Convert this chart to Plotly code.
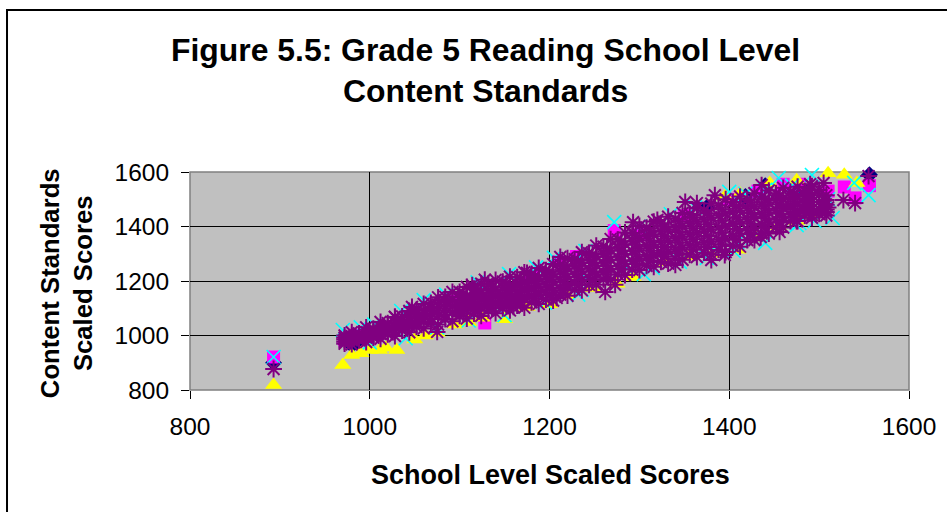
import plotly.graph_objects as go

# Read-off data (school level score, content standards score)
xs = [972,980,988,996,1004,1012,1020,1028,1036,1044,1052,1060,1068,1076,1084,1092,1100,1108,1116,1124,
      1132,1140,1148,1156,1164,1172,1180,1188,1196,1204,1212,1220,1228,1236,1244,1252,1260,1268,1276,1284,
      1292,1300,1308,1316,1324,1332,1340,1348,1356,1364,1372,1380,1388,1396,1404,1412,1420,1428,1436,1444,
      1452,1460,1468,1476,1484,1492,1500,1508]
purple_top = [1000,1012,1008,1030,1025,1050,1045,1068,1070,1090,1094,1116,1120,1140,1142,1160,1160,1178,1172,1190,
              1190,1204,1198,1216,1214,1232,1226,1248,1240,1262,1260,1284,1280,1306,1302,1330,1326,1354,1352,1378,
              1376,1402,1396,1418,1412,1436,1428,1450,1446,1468,1460,1484,1478,1500,1490,1510,1500,1522,1510,1532,
              1522,1542,1528,1546,1530,1548,1534,1515]
purple_up = [992,998,1006,1012,1021,1030,1038,1047,1057,1068,1080,1091,1103,1114,1123,1132,1140,1145,1152,1158,
             1165,1170,1176,1183,1189,1196,1203,1210,1217,1225,1235,1246,1256,1266,1277,1289,1300,1312,1324,1335,
             1346,1357,1365,1372,1381,1388,1395,1403,1411,1418,1425,1433,1440,1447,1453,1459,1467,1474,1480,1488,
             1495,1500,1505,1509,1513,1515,1515,1497]
purple_mid = [985,990,997,1002,1010,1018,1025,1033,1042,1052,1062,1072,1082,1092,1100,1108,1115,1120,1126,1132,
              1138,1143,1149,1155,1161,1167,1174,1181,1187,1195,1205,1215,1225,1235,1245,1257,1267,1278,1289,1299,
              1310,1320,1327,1334,1342,1349,1356,1363,1371,1377,1383,1390,1396,1402,1409,1417,1426,1435,1443,1452,
              1460,1468,1475,1482,1487,1490,1490,1480]
purple_low = [977,982,988,992,999,1006,1012,1019,1027,1035,1044,1052,1061,1070,1077,1084,1090,1094,1100,1105,
              1111,1116,1121,1127,1132,1138,1145,1151,1157,1165,1174,1184,1193,1203,1213,1225,1233,1244,1254,1263,
              1273,1282,1289,1295,1303,1309,1316,1323,1330,1335,1340,1346,1352,1357,1365,1374,1385,1396,1405,1416,
              1425,1435,1445,1454,1461,1465,1465,1462]
purple_bot = [970,968,982,976,992,988,1004,998,1018,1012,1032,1026,1046,1040,1060,1052,1072,1062,1080,1072,
              1092,1082,1100,1092,1110,1102,1122,1116,1132,1128,1150,1146,1168,1166,1186,1186,1206,1204,1224,1222,
              1242,1240,1256,1252,1270,1264,1282,1278,1296,1288,1304,1298,1314,1306,1328,1326,1350,1350,1374,1374,
              1396,1396,1420,1420,1440,1432,1446,1440]

fill_x = [1104,1120,1136,1152,1168,1184,1200,1216,1232,1248,1264,1280,1296,1312,1328,1344,1360,1376,1392,1408,1424,1440,1456,1472,1488]
fill_a = [1153,1166,1179,1192,1205,1219,1234,1255,1275,1298,1320,1345,1368,1385,1401,1418,1433,1449,1463,1475,1488,1501,1513,1519,1525]
fill_b = [1130,1142,1153,1166,1178,1191,1206,1225,1246,1267,1289,1312,1333,1349,1364,1380,1394,1408,1421,1434,1450,1466,1481,1492,1501]
fill_c = [1105,1116,1127,1138,1150,1163,1176,1195,1214,1235,1255,1276,1296,1311,1325,1340,1353,1365,1377,1391,1410,1430,1447,1464,1475]
fill_d = [1081,1092,1101,1112,1123,1135,1148,1165,1185,1204,1224,1243,1262,1275,1289,1302,1315,1325,1335,1351,1372,1395,1415,1437,1451]

purple_extra_x = [893,1128,1262,1351,1384,1436,1380,1395,1527,1540,1555,1490,1505,1475,1510,
                  1114,1083,1047,1028,1175,1160,1075,1293,1320,1364,1212,1208,1273,1340,1435,1456,1508,1492]
purple_extra_y = [877,1205,1160,1490,1515,1552,1277,1295,1497,1486,1585,1555,1560,1420,1470,
                  1185,1130,1105,1068,1230,1105,1013,1416,1424,1486,1288,1138,1186,1259,1361,1380,1453,1442]

cyan_x = [893,970,990,1005,1035,1060,1085,1120,1155,1185,1205,1240,1272,1300,1335,1362,1400,1418,1455,1492,1539,1555,
          1000,1040,1075,1110,1150,1195,1232,1285,1305,1345,1375,1405,1440,1475,1495,1515,
          1478,1426,1409,1384,1315,1245,1236,1440,1470,1510]
cyan_y = [921,1020,1030,1040,1090,1130,1150,1195,1225,1250,1285,1310,1416,1400,1445,1470,1527,1520,1578,1589,1560,1515,
          975,990,1030,1055,1075,1120,1150,1251,1225,1270,1285,1310,1340,1405,1420,1431,
          1413,1358,1343,1314,1248,1196,1167,1535,1550,1500]
magenta_x = [893,972,985,1005,1045,1095,1128,1180,1210,1230,1272,1300,1350,1400,1432,1460,1478,1510,1528,1540,1556]
magenta_y = [921,985,1000,1010,1050,1125,1046,1215,1270,1290,1385,1370,1440,1500,1530,1555,1555,1530,1545,1505,1550]
yellow_x = [893,970,980,990,1000,1011,1018,1030,1050,1062,1075,1095,1110,1125,1150,1175,1200,1219,1248,1275,1293,1330,1355,
            1382,1410,1430,1455,1475,1490,1510,1528,1542,1395,1412,1445,1475]
yellow_y = [818,892,928,935,947,947,955,947,985,1000,1010,1040,1050,1065,1060,1105,1115,1149,1174,1190,1215,1270,1290,
            1300,1315,1360,1400,1420,1440,1595,1590,1560,1510,1520,1560,1570]
navy_x = [893,980,985,1375,1418,1440,1480,1556]
navy_y = [900,965,975,1470,1510,1550,1545,1590]
tick_vals = [800,1000,1200,1400,1600]

fig = go.Figure()
fig.add_trace(go.Scatter(x=navy_x, y=navy_y, mode="markers", name="Navy", cliponaxis=False,
                         marker=dict(symbol="diamond", size=13, color="#000080")))
fig.add_trace(go.Scatter(x=magenta_x, y=magenta_y, mode="markers", name="Magenta", cliponaxis=False,
                         marker=dict(symbol="square", size=13, color="#FF00FF")))
fig.add_trace(go.Scatter(x=yellow_x, y=yellow_y, mode="markers", name="Yellow", cliponaxis=False,
                         marker=dict(symbol="triangle-up", size=15, color="#FFFF00")))
fig.add_trace(go.Scatter(x=cyan_x, y=cyan_y, mode="markers", name="Cyan", cliponaxis=False,
                         marker=dict(symbol="x-thin-open", size=14, color="#00FFFF", line=dict(color="#00FFFF", width=1.6))))
all_x = xs * 5 + fill_x * 4 + purple_extra_x
all_y = purple_top + purple_up + purple_mid + purple_low + purple_bot + fill_a + fill_b + fill_c + fill_d + purple_extra_y
fig.add_trace(go.Scatter(x=all_x, y=all_y, mode="markers", name="Purple", cliponaxis=False,
                         marker=dict(symbol="asterisk-open", size=14, color="#800080", line=dict(color="#800080", width=2))))

axis = dict(showline=False, ticks="outside", ticklen=8, tickwidth=1,
            tickcolor="#000000", gridcolor="#000000", gridwidth=1, zeroline=False, ticklabelstandoff=7,
            tickfont=dict(family="Liberation Sans", size=24.5, color="#000000"))
fig.update_xaxes(range=[800,1600], tickvals=tick_vals, **axis)
fig.update_yaxes(range=[800,1600], tickvals=tick_vals, **axis)

fig.update_layout(
    width=947, height=512, autosize=False, showlegend=False,
    margin=dict(l=190, r=38, t=172, b=122, autoexpand=False),
    paper_bgcolor="#FFFFFF", plot_bgcolor="#C0C0C0",
    shapes=[
        dict(type="rect", xref="paper", yref="paper", x0=-0.2545, x1=1.2, y0=-0.8, y1=1.743,
             line=dict(color="#000000", width=2), fillcolor="rgba(0,0,0,0)", layer="below"),
        dict(type="rect", xref="paper", yref="paper", x0=0, x1=1, y0=0, y1=1,
             line=dict(color="#808080", width=1.5), fillcolor="rgba(0,0,0,0)", layer="below"),
    ],
    annotations=[
        dict(text="<b>Figure 5.5: Grade 5 Reading School Level<br>Content Standards</b>", xref="paper", yref="paper",
             x=0.4115, y=1.65, xanchor="center", yanchor="top", showarrow=False, align="center",
             font=dict(family="Liberation Sans", size=31.9, color="#000000")),
        dict(text="<b>School Level Scaled Scores</b>", xref="paper", yref="paper", x=0.501, y=-0.389,
             xanchor="center", yanchor="middle", showarrow=False,
             font=dict(family="Liberation Sans", size=27, color="#000000")),
        dict(text="<b>Content Standards<br>Scaled Scores</b>", xref="paper", yref="paper", x=-0.1725, y=0.49,
             xanchor="center", yanchor="middle", showarrow=False, textangle=-90, align="center",
             font=dict(family="Liberation Sans", size=25.7, color="#000000")),
    ],
)
fig.write_html("out.html", config={"displayModeBar": False},
               post_script="document.body.style.margin='0';document.body.style.overflow='hidden';")
